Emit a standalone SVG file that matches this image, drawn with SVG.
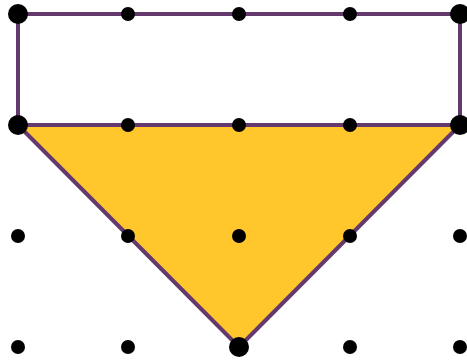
<svg xmlns="http://www.w3.org/2000/svg" width="467" height="362" viewBox="0 0 467 362">
<style>
.edge{fill:none;stroke:#643a6e;stroke-width:4;stroke-linejoin:round}
.tri{fill:#ffc72c;stroke:#643a6e;stroke-width:4;stroke-linejoin:round}
.dot{fill:#000}
</style>
<rect width="467" height="362" fill="#fff"/>
<g id="connectors">
<polygon class="tri" points="18,125 460,125 239,347"/>
<rect class="edge" x="18" y="14" width="442" height="111"/>
</g>
<g id="dots">
<circle class="dot" cx="128" cy="14" r="7"/>
<circle class="dot" cx="239" cy="14" r="7"/>
<circle class="dot" cx="350" cy="14" r="7"/>
<circle class="dot" cx="128" cy="125" r="7"/>
<circle class="dot" cx="239" cy="125" r="7"/>
<circle class="dot" cx="350" cy="125" r="7"/>
<circle class="dot" cx="18" cy="236" r="7"/>
<circle class="dot" cx="128" cy="236" r="7"/>
<circle class="dot" cx="239" cy="236" r="7"/>
<circle class="dot" cx="350" cy="236" r="7"/>
<circle class="dot" cx="460" cy="236" r="7"/>
<circle class="dot" cx="18" cy="347" r="7"/>
<circle class="dot" cx="128" cy="347" r="7"/>
<circle class="dot" cx="350" cy="347" r="7"/>
<circle class="dot" cx="460" cy="347" r="7"/>
</g>
<g id="vertices">
<circle class="dot" cx="18" cy="14" r="10"/>
<circle class="dot" cx="460" cy="14" r="10"/>
<circle class="dot" cx="18" cy="125" r="10"/>
<circle class="dot" cx="460" cy="125" r="10"/>
<circle class="dot" cx="239" cy="347" r="10"/>
</g>
</svg>
